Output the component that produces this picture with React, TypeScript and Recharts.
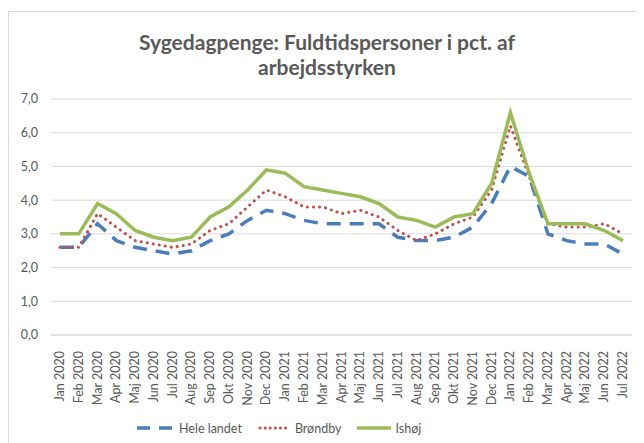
import { LineChart, Line, XAxis, YAxis, CartesianGrid, Legend } from "recharts";

const months = [
  "Jan 2020", "Feb 2020", "Mar 2020", "Apr 2020", "Maj 2020", "Jun 2020", "Jul 2020", "Aug 2020",
  "Sep 2020", "Okt 2020", "Nov 2020", "Dec 2020", "Jan 2021", "Feb 2021", "Mar 2021", "Apr 2021",
  "Maj 2021", "Jun 2021", "Jul 2021", "Aug 2021", "Sep 2021", "Okt 2021", "Nov 2021", "Dec 2021",
  "Jan 2022", "Feb 2022", "Mar 2022", "Apr 2022", "Maj 2022", "Jun 2022", "Jul 2022",
];

const heleLandet = [
  2.6, 2.6, 3.3, 2.8, 2.6, 2.5, 2.4, 2.5, 2.8, 3.0, 3.4, 3.7, 3.6, 3.4, 3.3, 3.3,
  3.3, 3.3, 2.9, 2.8, 2.8, 2.9, 3.2, 3.9, 5.0, 4.7, 3.0, 2.8, 2.7, 2.7, 2.4,
];
const broendby = [
  2.6, 2.6, 3.6, 3.2, 2.8, 2.7, 2.6, 2.7, 3.1, 3.3, 3.8, 4.3, 4.1, 3.8, 3.8, 3.6,
  3.7, 3.5, 3.1, 2.8, 3.0, 3.3, 3.5, 4.3, 6.2, 4.7, 3.3, 3.2, 3.2, 3.3, 3.0,
];
const ishoej = [
  3.0, 3.0, 3.9, 3.6, 3.1, 2.9, 2.8, 2.9, 3.5, 3.8, 4.3, 4.9, 4.8, 4.4, 4.3, 4.2,
  4.1, 3.9, 3.5, 3.4, 3.2, 3.5, 3.6, 4.5, 6.6, 4.8, 3.3, 3.3, 3.3, 3.1, 2.8,
];

const yTicks = [0, 1, 2, 3, 4, 5, 6, 7];

const data = months.map((m, i) => ({
  month: m,
  hele: heleLandet[i],
  broendby: broendby[i],
  ishoej: ishoej[i],
}));

const FONT = "Lato, 'Open Sans', sans-serif";
const TEXT = "#595959";

const MonthTick = ({ x, y, payload }: any) => (
  <text
    x={0}
    y={0}
    transform={`translate(${x + 4},${y + 8}) rotate(-90)`}
    textAnchor="end"
    fill={TEXT}
    fontSize={12.5}
    fontFamily={FONT}
  >
    {payload.value}
  </text>
);

const LegendBox = () => (
  <div
    style={{
      height: 30,
      display: "flex",
      justifyContent: "flex-start",
      alignItems: "center",
      paddingLeft: 128,
      fontFamily: FONT,
      fontSize: 12.5,
      color: TEXT,
      gap: 16,
    }}
  >
    <span style={{ display: "flex", alignItems: "center", gap: 4 }}>
      <svg width={38} height={6}>
        <line x1={0} y1={3} x2={38} y2={3} stroke="#4a7ebb" strokeWidth={3.5} strokeDasharray="13 9" />
      </svg>
      Hele landet
    </span>
    <span style={{ display: "flex", alignItems: "center", gap: 7 }}>
      <svg width={30} height={6}>
        <line x1={2} y1={3} x2={30} y2={3} stroke="#c0504d" strokeWidth={3} strokeDasharray="0.1 5" strokeLinecap="round" />
      </svg>
      Brøndby
    </span>
    <span style={{ display: "flex", alignItems: "center", gap: 4 }}>
      <svg width={34} height={6}>
        <line x1={0} y1={3} x2={34} y2={3} stroke="#9bbb59" strokeWidth={3.5} />
      </svg>
      Ishøj
    </span>
  </div>
);

export default function App() {
  return (
    <div
      style={{
        position: "relative",
        marginTop: 3,
        width: 636,
        height: 432,
        borderTop: "1px solid #d9d9d9",
        borderLeft: "1px solid #d9d9d9",
        background: "#fff",
      }}
    >
      <div
        style={{
          position: "absolute",
          top: 17,
          left: 0,
          width: 636,
          textAlign: "center",
          fontFamily: FONT,
          fontWeight: 700,
          fontSize: 21,
          lineHeight: "25px",
          color: TEXT,
        }}
      >
        Sygedagpenge: Fuldtidspersoner i pct. af
        <br />
        arbejdsstyrken
      </div>
      <LineChart
        width={635}
        height={431}
        data={data}
        margin={{ top: 87, right: 12, left: 0, bottom: 0 }}
      >
        <CartesianGrid vertical={false} stroke="#d9d9d9" strokeWidth={1} />
        <XAxis
          dataKey="month"
          interval={0}
          height={78}
          padding={{ left: 9, right: 9 }}
          tick={<MonthTick />}
          tickLine={false}
          axisLine={{ stroke: "#d9d9d9" }}
        />
        <YAxis
          domain={[0, 7]}
          ticks={yTicks}
          width={42}
          axisLine={false}
          tickLine={false}
          tickSize={0}
          tickMargin={13}
          tickFormatter={(v: number) => v.toFixed(1).replace(".", ",")}
          tick={{ fill: TEXT, fontSize: 12.5, fontFamily: FONT }}
        />
        <Legend verticalAlign="bottom" height={30} content={<LegendBox />} />
        <Line
          dataKey="hele"
          name="Hele landet"
          stroke="#4a7ebb"
          strokeWidth={3.5}
          strokeDasharray="14 9"
          dot={false}
          isAnimationActive={false}
        />
        <Line
          dataKey="broendby"
          name="Brøndby"
          stroke="#c0504d"
          strokeWidth={3}
          strokeDasharray="0.1 6"
          strokeLinecap="round"
          dot={false}
          isAnimationActive={false}
        />
        <Line
          dataKey="ishoej"
          name="Ishøj"
          stroke="#9bbb59"
          strokeWidth={3.5}
          dot={false}
          isAnimationActive={false}
        />
      </LineChart>
    </div>
  );
}
